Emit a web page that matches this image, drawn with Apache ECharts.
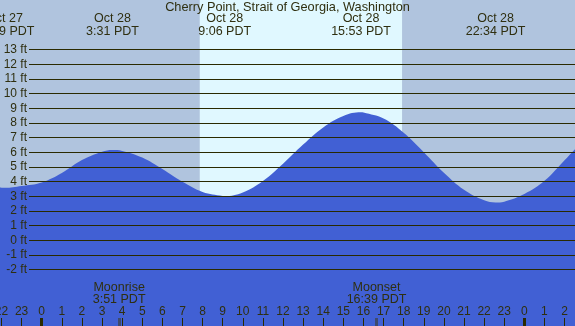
<!DOCTYPE html>
<html>
<head>
<meta charset="utf-8">
<title>Cherry Point tide</title>
<script src="https://cdn.jsdelivr.net/npm/echarts@6/dist/echarts.min.js"></script>
<style>
    html, body { margin: 0; padding: 0; }
    #main { width: 575px; height: 326px; }
</style>
</head>
<body>
<div id="main"></div>
<script>
// hours counted from midnight Oct 28 (PDT), tide height in feet
let tideHours = [-3, -2, -1.85, -1, 0, 1, 2, 3, 3.52, 4, 5, 6, 7, 8, 9, 9.1, 10, 11, 12, 13, 14, 15, 15.88, 16, 17, 18, 19, 20, 21, 22, 22.57, 23, 24, 25, 26, 27];
let tideFeet = [3.68, 3.58, 3.57, 3.70, 3.94, 4.58, 5.46, 6.03, 6.15, 6.09, 5.64, 4.85, 3.98, 3.29, 3.01, 3.00, 3.25, 4.03, 5.21, 6.52, 7.69, 8.47, 8.72, 8.70, 8.29, 7.32, 6.00, 4.60, 3.44, 2.72, 2.57, 2.63, 3.15, 4.05, 5.45, 6.90];

let extremeHours = [-1.85, 3.52, 9.1, 15.88, 22.57];
let extremeDays = ['Oct 27', 'Oct 28', 'Oct 28', 'Oct 28', 'Oct 28'];
let extremeTimes = ['22:09 PDT', '3:31 PDT', '9:06 PDT', '15:53 PDT', '22:34 PDT'];

let sunHours = [7.86, 17.92];

let moonHours = [3.85, 16.65];
let moonNames = ['Moonrise', 'Moonset'];
let moonTimes = ['3:51 PDT', '16:39 PDT'];

let hourTicks = [-2, -1, 0, 1, 2, 3, 4, 5, 6, 7, 8, 9, 10, 11, 12, 13, 14, 15, 16, 17, 18, 19, 20, 21, 22, 23, 24, 25, 26];
let midnightTicks = [0, 24];
let feetTicks = [-2, -1, 0, 1, 2, 3, 4, 5, 6, 7, 8, 9, 10, 11, 12, 13];

let xMin = -2.074, xMax = 26.52;
let yMin = -5.85, yMax = 16.377;

let textColor = '#2f2f10';
let lineColor = '#2a2a00';
let font = 'Liberation Sans';

let chart = echarts.init(document.getElementById('main'), null, { renderer: 'canvas' });

let option = {
    animation: false,
    backgroundColor: '#b0c4de',
    title: {
        text: 'Cherry Point, Strait of Georgia, Washington',
        left: 'center',
        top: 1,
        padding: 0,
        textStyle: { fontSize: 12.75, fontWeight: 'normal', color: textColor, fontFamily: font }
    },
    grid: [
        { left: 0, right: 0, top: 0, bottom: 0, outerBoundsMode: 'none', containLabel: false },
        { left: 29, right: 0, top: 0, bottom: 0, outerBoundsMode: 'none', containLabel: false }
    ],
    xAxis: [
        {
            gridIndex: 0, type: 'value', min: xMin, max: xMax, position: 'bottom', offset: 0, z: 10,
            axisLine: { show: false, onZero: false }, splitLine: { show: false },
            axisTick: { inside: true, length: 8, customValues: hourTicks, lineStyle: { color: lineColor, width: 1 } },
            axisLabel: {
                inside: true, margin: 8, customValues: hourTicks,
                formatter: function (v) { return String(((v % 24) + 24) % 24); },
                color: textColor, fontSize: 12, fontFamily: font
            }
        },
        {
            gridIndex: 0, type: 'value', min: xMin, max: xMax, position: 'bottom', offset: 0, z: 10,
            axisLine: { show: false, onZero: false }, splitLine: { show: false },
            axisTick: { inside: true, length: 8, customValues: midnightTicks, lineStyle: { color: lineColor, width: 3 } },
            axisLabel: { show: false }
        },
        {
            gridIndex: 0, type: 'value', min: xMin, max: xMax, position: 'bottom', offset: 0, z: 10,
            axisLine: { show: false, onZero: false }, splitLine: { show: false },
            axisTick: { inside: true, length: 8, customValues: moonHours, lineStyle: { color: 'rgba(60,60,40,0.6)', width: 3 } },
            axisLabel: {
                inside: true, margin: 20, customValues: moonHours,
                formatter: function (v) {
                    let i = moonHours.indexOf(v);
                    return moonNames[i] + '\n' + moonTimes[i];
                },
                lineHeight: 12.6, color: textColor, fontSize: 12.5, fontFamily: font
            }
        },
        {
            gridIndex: 0, type: 'value', min: xMin, max: xMax, position: 'top', offset: 0, z: 10,
            axisLine: { show: false, onZero: false }, splitLine: { show: false }, axisTick: { show: false },
            axisLabel: {
                inside: true, margin: 12.5, customValues: extremeHours,
                formatter: function (v) {
                    let i = extremeHours.indexOf(v);
                    return extremeDays[i] + '\n' + extremeTimes[i];
                },
                lineHeight: 13, color: textColor, fontSize: 12.5, fontFamily: font
            }
        },
        { gridIndex: 1, type: 'value', min: 0, max: 1, show: false, axisLine: { onZero: false } }
    ],
    yAxis: [
        { gridIndex: 0, type: 'value', min: yMin, max: yMax, show: false, axisLine: { onZero: false } },
        { gridIndex: 1, type: 'value', min: yMin, max: yMax, show: false, axisLine: { onZero: false } }
    ],
    series: [
        {
            // daylight band
            type: 'line', xAxisIndex: 0, yAxisIndex: 0, data: [], z: 1,
            markArea: {
                silent: true,
                itemStyle: { color: '#e0f8ff' },
                data: [[{ xAxis: sunHours[0] }, { xAxis: sunHours[1] }]]
            }
        },
        {
            type: 'line', xAxisIndex: 0, yAxisIndex: 0, z: 2,
            data: tideHours.map(function (t, i) { return [t, tideFeet[i]]; }),
            smooth: 0.4,
            symbol: 'none',
            lineStyle: { width: 0 },
            areaStyle: { color: '#4160d4', opacity: 1, origin: 'start' }
        },
        {
            // ft grid lines with labels
            type: 'line', xAxisIndex: 4, yAxisIndex: 1, data: [], z: 3,
            markLine: {
                silent: true,
                symbol: 'none',
                lineStyle: { color: lineColor, width: 1, type: 'solid' },
                label: {
                    position: 'start', distance: 2,
                    formatter: function (p) { return p.value + ' ft'; },
                    color: textColor, fontSize: 12, fontFamily: font
                },
                data: feetTicks.map(function (v) { return { yAxis: v }; })
            }
        }
    ]
};

chart.setOption(option);
</script>
</body>
</html>
